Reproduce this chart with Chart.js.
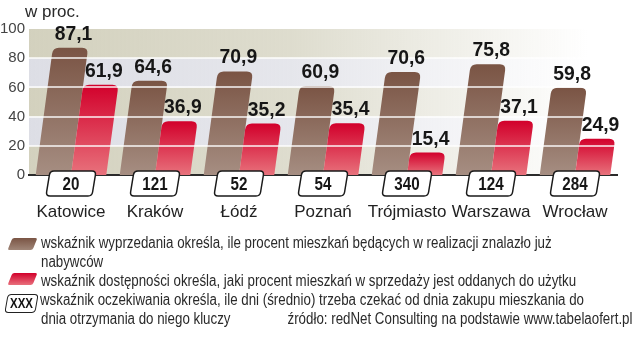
<!DOCTYPE html>
<html><head><meta charset="utf-8">
<script src="https://cdn.jsdelivr.net/npm/chart.js@4/dist/chart.umd.min.js"></script>
<style>
html,body{margin:0;padding:0;background:#fff;}
#wrap{position:relative;width:637px;height:352px;overflow:hidden;color:#2a2a2a;font-family:"Liberation Sans",Arial,sans-serif;}
#c{position:absolute;left:0;top:0;}
.t{position:absolute;white-space:nowrap;font-family:"Liberation Sans",Arial,sans-serif;font-size:16px;line-height:19px;color:#2a2a2a;transform-origin:0 50%;}
.t.r{transform-origin:100% 50%;}
.unit{position:absolute;left:25px;top:2px;font-size:17px;line-height:20px;color:#2a2a2a;}
.sw{position:absolute;width:25px;height:12px;border-radius:2px;transform:skewX(-22deg);}
.xxx{position:absolute;left:6px;top:294px;width:29px;height:17px;border:1.5px solid #222;border-radius:4px;transform:skewX(-10deg);background:#fff;}
.xxx span{display:block;transform:skewX(10deg) scaleX(0.82);text-align:center;font:bold 14px/17px "Liberation Sans",Arial,sans-serif;color:#111;}
</style></head>
<body>
<div id="wrap">
<canvas id="c" width="637" height="352"></canvas>
<div class="unit">w proc.</div>
<div class="sw" style="left:10px;top:238px;background:linear-gradient(#7a5444,#a08678);"></div>
<div class="t" style="left:41px;top:233px;">wskaźnik wyprzedania określa, ile procent mieszkań będących w realizacji znalazło już</div>
<div class="t" style="left:41px;top:252px;">nabywców</div>
<div class="sw" style="left:10px;top:273px;background:linear-gradient(#d2002b,#e8707c);"></div>
<div class="t" style="left:41px;top:271px;">wskaźnik dostępności określa, jaki procent mieszkań w sprzedaży jest oddanych do użytku</div>
<div class="xxx"><span>XXX</span></div>
<div class="t" id="ref" style="left:40px;top:290px;">wskaźnik oczekiwania określa, ile dni (średnio) trzeba czekać od dnia zakupu mieszkania do</div>
<div class="t" style="left:41px;top:309px;">dnia otrzymania do niego kluczy</div>
<div class="t r" style="right:5px;top:309px;">źródło: redNet Consulting na podstawie www.tabelaofert.pl</div>
</div>
<script>
const cities = ['Katowice','Kraków','Łódź','Poznań','Trójmiasto','Warszawa','Wrocław'];
const sellOut = [87.1, 64.6, 70.9, 60.9, 70.6, 75.8, 59.8];
const availability = [61.9, 36.9, 35.2, 35.4, 15.4, 37.1, 24.9];
const waitDays = [20, 121, 52, 54, 340, 124, 284];
const yTicks = [0, 20, 40, 60, 80, 100];

// condense legend text to match the narrow typeface of the original
(function(){
  const ref = document.getElementById('ref');
  const k = 544 / ref.getBoundingClientRect().width;
  document.querySelectorAll('.t').forEach(el => { el.style.transform = 'scaleX(' + k + ')'; });
})();

const SKEW = 0.135;
const barColors = [['#7a5444', '#a68e82'], ['#d2002b', '#e8727c']];
function fmt(v){ return v.toFixed(1).replace('.', ','); }
function rgba(c, a){ return 'rgba(' + c[0] + ',' + c[1] + ',' + c[2] + ',' + a + ')'; }

const bandsPlugin = {
  id: 'bands',
  beforeDraw(chart){
    const {ctx, chartArea: a, scales: {y}} = chart;
    ctx.save();
    for (let i = 0; i < yTicks.length - 1; i++){
      const y0 = y.getPixelForValue(yTicks[i]), y1 = y.getPixelForValue(yTicks[i+1]);
      const c = (i % 2 === 0) ? [211, 209, 190] : [221, 222, 229];
      const g = ctx.createLinearGradient(a.left, 0, a.right, 0);
      g.addColorStop(0, rgba(c, 1));
      g.addColorStop(0.45, rgba(c, 0.75));
      g.addColorStop(0.95, rgba(c, 0));
      ctx.fillStyle = g;
      ctx.fillRect(a.left, y1, a.right - a.left, y0 - y1);
    }
    ctx.restore();
  }
};

function skewPath(ctx, x, y, base, w, r){
  const h = base - y;
  const bl = x - w/2, br = x + w/2;
  const tl = bl + SKEW*h, tr = br + SKEW*h;
  ctx.beginPath();
  ctx.moveTo(bl, base);
  ctx.lineTo(tl - SKEW*r, y + r);
  ctx.quadraticCurveTo(tl, y, tl + r, y);
  ctx.lineTo(tr - r, y);
  ctx.quadraticCurveTo(tr, y, tr - SKEW*r, y + r);
  ctx.lineTo(br, base);
  ctx.closePath();
  return (tl + tr) / 2;
}

const barsPlugin = {
  id: 'skewBars',
  afterDatasetsDraw(chart){
    const {ctx, chartArea: a, scales: {y}} = chart;
    const tops = [];
    ctx.save();
    chart.data.datasets.forEach((ds, di) => {
      const meta = chart.getDatasetMeta(di);
      meta.data.forEach((el, i) => {
        const p = el.getProps(['x', 'y', 'base', 'width'], true);
        const g = ctx.createLinearGradient(0, p.y, 0, p.base);
        g.addColorStop(0, barColors[di][0]);
        g.addColorStop(1, barColors[di][1]);
        ctx.fillStyle = g;
        const cx = skewPath(ctx, p.x, p.y, p.base, p.width, 6);
        ctx.fill();
        tops.push({cx: cx, y: p.y, v: ds.data[i]});
      });
    });
    ctx.strokeStyle = 'rgba(255,255,255,0.7)';
    ctx.lineWidth = 2;
    yTicks.slice(1, -1).forEach(v => {
      const py = Math.round(y.getPixelForValue(v));
      ctx.beginPath();
      ctx.moveTo(a.left, py);
      ctx.lineTo(a.right, py);
      ctx.stroke();
    });
    ctx.fillStyle = '#161616';
    ctx.font = 'bold 21px "Liberation Sans", Arial, sans-serif';
    ctx.textAlign = 'center';
    ctx.textBaseline = 'alphabetic';
    tops.forEach(t => {
      ctx.save();
      ctx.translate(t.cx + 3, t.y - 8);
      ctx.scale(0.92, 1);
      ctx.fillText(fmt(t.v), 0, 0);
      ctx.restore();
    });
    ctx.restore();
  },
  afterDraw(chart){
    const {ctx, chartArea: a, scales: {x}} = chart;
    ctx.save();
    const top = a.bottom - 4, bot = a.bottom + 21, w = 46, r = 4, sk = 4;
    waitDays.forEach((d, i) => {
      const cx = x.getPixelForValue(i);
      const l = cx - w/2 - sk/2, rr = cx + w/2 - sk/2;
      ctx.beginPath();
      ctx.moveTo(l + sk + r, top);
      ctx.lineTo(rr + sk - r, top);
      ctx.quadraticCurveTo(rr + sk, top, rr + sk - 0.6, top + r);
      ctx.lineTo(rr + 0.6, bot - r);
      ctx.quadraticCurveTo(rr, bot, rr - r, bot);
      ctx.lineTo(l + r, bot);
      ctx.quadraticCurveTo(l, bot, l + 0.6, bot - r);
      ctx.lineTo(l + sk - 0.6, top + r);
      ctx.quadraticCurveTo(l + sk, top, l + sk + r, top);
      ctx.closePath();
      ctx.fillStyle = '#fff';
      ctx.fill();
      ctx.strokeStyle = '#1a1a1a';
      ctx.lineWidth = 1.5;
      ctx.stroke();
      ctx.fillStyle = '#161616';
      ctx.font = 'bold 19px "Liberation Sans", Arial, sans-serif';
      ctx.textAlign = 'center';
      ctx.textBaseline = 'middle';
      ctx.save();
      ctx.translate(cx, (top + bot) / 2 + 1);
      ctx.scale(0.8, 1);
      ctx.fillText(String(d), 0, 0);
      ctx.restore();
    });
    ctx.restore();
  }
};

new Chart(document.getElementById('c'), {
  type: 'bar',
  data: {
    labels: cities,
    datasets: [
      {label: 'wskaźnik wyprzedania', data: sellOut, backgroundColor: 'rgba(0,0,0,0)', borderWidth: 0},
      {label: 'wskaźnik dostępności', data: availability, backgroundColor: 'rgba(0,0,0,0)', borderWidth: 0}
    ]
  },
  options: {
    responsive: false,
    animation: false,
    devicePixelRatio: 1,
    categoryPercentage: 0.84,
    barPercentage: 1.0,
    layout: {padding: {left: 0, right: 20, top: 29, bottom: 127}},
    plugins: {legend: {display: false}, tooltip: {enabled: false}},
    scales: {
      x: {
        grid: {display: false, drawTicks: false},
        border: {display: true, color: '#2b2b2b', width: 2},
        ticks: {padding: 27, color: '#222', maxRotation: 0, minRotation: 0, autoSkip: false,
                font: {family: '"Liberation Sans", Arial, sans-serif', size: 17}},
        afterFit(s){ s.height = 50; s.paddingLeft = 0; s.paddingRight = 0; }
      },
      y: {
        min: 0, max: 100,
        grid: {display: false, drawTicks: false},
        border: {display: false},
        ticks: {stepSize: 20, padding: 4, color: '#444', font: {family: '"Liberation Sans", Arial, sans-serif', size: 15}},
        afterFit(s){ s.width = 29; }
      }
    }
  },
  plugins: [bandsPlugin, barsPlugin]
});
</script>
</body></html>
